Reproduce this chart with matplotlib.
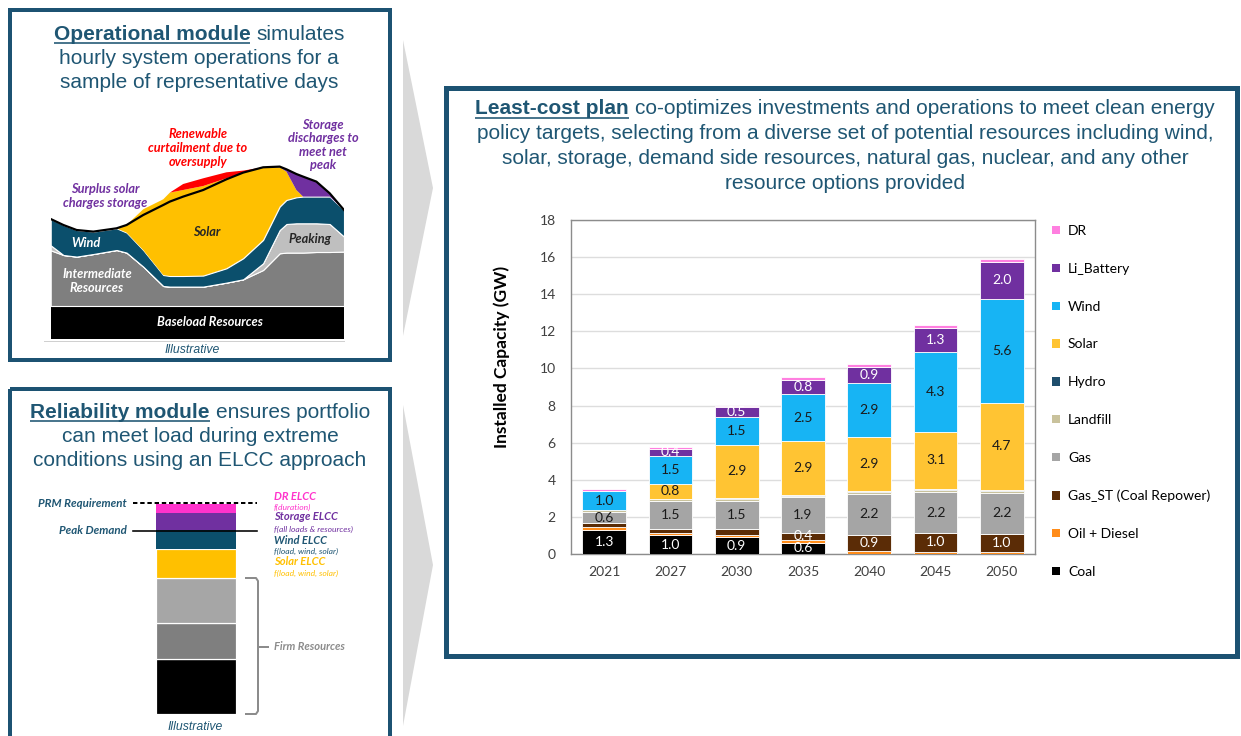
import numpy as np
import matplotlib
matplotlib.use("Agg")
import matplotlib.pyplot as plt
from matplotlib.patches import Rectangle, Polygon, Patch

# ---------------- capacity expansion results (GW) ----------------
years = ["2021", "2027", "2030", "2035", "2040", "2045", "2050"]
coal       = [1.3, 1.0, 0.9, 0.6, 0.0, 0.0, 0.0]
oil_diesel = [0.15, 0.15, 0.15, 0.15, 0.15, 0.12, 0.10]
gas_st     = [0.2, 0.2, 0.3, 0.4, 0.9, 1.0, 1.0]
gas        = [0.6, 1.5, 1.5, 1.9, 2.2, 2.2, 2.2]
landfill   = [0.10, 0.10, 0.10, 0.10, 0.10, 0.12, 0.10]
hydro      = [0.03, 0.03, 0.05, 0.05, 0.05, 0.05, 0.05]
solar      = [0.0, 0.8, 2.9, 2.9, 2.9, 3.1, 4.7]
wind       = [1.0, 1.5, 1.5, 2.5, 2.9, 4.3, 5.6]
li_battery = [0.0, 0.4, 0.5, 0.8, 0.9, 1.3, 2.0]
dr         = [0.10, 0.10, 0.10, 0.15, 0.12, 0.15, 0.15]

series_names = ["Coal", "Oil + Diesel", "Gas_ST (Coal Repower)", "Gas", "Landfill",
                "Hydro", "Solar", "Wind", "Li_Battery", "DR"]
y_ticks = [0, 2, 4, 6, 8, 10, 12, 14, 16, 18]

# ---------------- illustrative daily dispatch profile ----------------
op_hours      = [0, 1.04, 2.12, 3.49, 5.39, 6.21, 7.57, 9.21, 9.75, 10.84, 12.48,
                 14.38, 15.75, 17.38, 18.74, 19.29, 20.10, 20.65, 21.74, 22.83, 24.0]
baseload_lvl  = 33.3
intermediate  = [89.0, 84.3, 82.7, 85.3, 89.3, 86.7, 72.7, 53.3, 52.7, 52.7, 52.7,
                 56.7, 60.0, 69.3, 86.0, 86.7, 86.7, 86.7, 87.3, 87.3, 87.7]
peaking       = [94.0, 84.3, 82.7, 85.3, 89.3, 86.7, 72.7, 53.3, 52.7, 52.7, 52.7,
                 56.7, 60.0, 76.0, 109.3, 115.3, 116.0, 116.0, 116.0, 115.3, 102.7]
wind_top      = [120.3, 114.3, 109.3, 107.7, 111.0, 106.7, 89.3, 64.3, 63.3, 63.3, 63.7,
                 71.0, 81.0, 99.3, 132.7, 139.3, 142.0, 142.7, 142.7, 142.7, 129.3]
solar_top     = [120.3, 114.3, 109.3, 107.7, 111.0, 114.3, 130.0, 140.0, 146.7, 149.3, 153.3,
                 161.0, 166.7, 172.0, 172.0, 167.7, 149.3, 142.7, 142.7, 142.7, 129.3]
curtail_top   = [120.3, 114.3, 109.3, 107.7, 111.0, 114.3, 130.0, 140.0, 146.7, 155.3, 161.0,
                 167.0, 168.7, 172.0, 172.0, 167.7, 149.3, 142.7, 142.7, 142.7, 129.3]
net_load      = [120.3, 114.3, 109.3, 107.7, 111.0, 114.3, 124.3, 134.3, 137.7, 142.7, 149.3,
                 160.0, 166.7, 172.0, 172.7, 170.0, 165.3, 162.7, 157.7, 146.0, 129.3]

# ---------------- illustrative ELCC stack ----------------
elcc_names   = ["Baseload", "Firm 2", "Firm 3", "Solar", "Wind", "Storage", "DR"]
elcc_heights = [55.5, 35.2, 45.6, 28.4, 19.3, 17.3, 8.7]
peak_demand  = 183.3
prm_level    = 210.7

# ---------------- styling ----------------
W, H = 1241, 736
TEAL = "#1C5272"
TXT = "#1F5673"
TITLE_FONT = ["Liberation Sans", "DejaVu Sans"]
LAB_FONT = ["Lato", "DejaVu Sans"]
PT = 0.72  # points per pixel at 100 dpi

colors = {
    "Coal": "#000000", "Oil + Diesel": "#FF8C1A", "Gas_ST (Coal Repower)": "#5B2C06",
    "Gas": "#A5A5A5", "Landfill": "#C9C29C", "Hydro": "#1E4E6C", "Solar": "#FFC433",
    "Wind": "#17B4F4", "Li_Battery": "#7030A0", "DR": "#FF7FE0",
}

fig = plt.figure(figsize=(W / 100, H / 100), dpi=100, facecolor="white")
# full-figure pixel canvas for frames and annotations, drawn above the inner axes
ax0 = fig.add_axes([0, 0, 1, 1], zorder=5)
ax0.set_xlim(0, W)
ax0.set_ylim(H, 0)
ax0.axis("off")
ax0.patch.set_visible(False)
renderer = fig.canvas.get_renderer()


def fax(left, top, right, bottom):
    return [left / W, (H - bottom) / H, (right - left) / W, (bottom - top) / H]


# frames
ax0.add_patch(Rectangle((10, 10), 380, 350, fill=False, ec=TEAL, lw=4 * PT))
ax0.add_patch(Rectangle((10, 389), 380, 380, fill=False, ec=TEAL, lw=4 * PT))
ax0.add_patch(Rectangle((446, 88), 791, 568, fill=False, ec=TEAL, lw=5 * PT))

# chevrons
ax0.add_patch(Polygon([(403, 40), (433, 188), (403, 336)], closed=True, fc="#D9D9D9", ec="none"))
ax0.add_patch(Polygon([(403, 405), (433, 565), (403, 726)], closed=True, fc="#D9D9D9", ec="none"))


def title_block(cx, baselines, lines, size):
    spx = size / PT
    for yb, parts in zip(baselines, lines):
        objs = []
        for s, bold in parts:
            t = ax0.text(0, yb, s, fontsize=size, fontweight="bold" if bold else "normal",
                         color=TXT, ha="left", va="baseline", family=TITLE_FONT)
            objs.append((t, bold))
        widths = [t.get_window_extent(renderer).width for t, _ in objs]
        gap = 0.278 * spx
        total = sum(widths) + gap * (len(objs) - 1)
        x = cx - total / 2
        for (t, bold), w in zip(objs, widths):
            t.set_x(x)
            if bold:
                ax0.plot([x, x + w], [yb + 3.5, yb + 3.5], color=TXT, lw=1.6 * PT,
                         solid_capstyle="butt")
            x += w + gap


title_block(199, [39.5, 64, 88.5],
            [[("Operational module", True), ("simulates", False)],
             [("hourly system operations for a", False)],
             [("sample of representative days", False)]], 15)

title_block(200, [417.5, 442, 466.5],
            [[("Reliability module", True), ("ensures portfolio", False)],
             [("can meet load during extreme", False)],
             [("conditions using an ELCC approach", False)]], 15)

title_block(845, [114, 139, 164, 189],
            [[("Least-cost plan", True),
              ("co-optimizes investments and operations to meet clean energy", False)],
             [("policy targets, selecting from a diverse set of potential resources including wind,", False)],
             [("solar, storage, demand side resources, natural gas, nuclear, and any other", False)],
             [("resource options provided", False)]], 15)

# ---------------- operational dispatch diagram ----------------
axA = fig.add_axes(fax(50.7, 139.3, 344, 339.3))
axA.set_xlim(0, 24)
axA.set_ylim(0, 200)
axA.axis("off")
hrs = np.array(op_hours)
base = np.full_like(hrs, baseload_lvl)
axA.fill_between(hrs, 0, base, color="#000000", lw=0)
axA.fill_between(hrs, base, intermediate, fc="#7F7F7F", ec="white", lw=0.8)
axA.fill_between(hrs, intermediate, peaking, fc="#BFBFBF", ec="white", lw=0.8)
axA.fill_between(hrs, peaking, wind_top, fc="#0B4F6C", ec="white", lw=0.8)
axA.fill_between(hrs, wind_top, solar_top, fc="#FFC000", lw=0)
axA.fill_between(hrs, solar_top, curtail_top, fc="#FF0000", lw=0)
axA.fill_between(hrs, solar_top, net_load, where=hrs >= 17.3, fc="#7030A0", lw=0)
axA.plot(hrs, net_load, color="black", lw=2.2 * PT)
ax0.plot([44, 344], [341, 341], color="#D0D0D0", lw=1 * PT)

lab = dict(family=LAB_FONT, fontweight="bold", style="italic", fontsize=9.2,
           ha="center", va="center", linespacing=1.15)
ax0.text(198, 148, "Renewable\ncurtailment due to\noversupply", color="#FF0000", **lab)
ax0.text(105, 196, "Surplus solar\ncharges storage", color="#7030A0", **lab)
ax0.text(323, 145, "Storage\ndischarges to\nmeet net\npeak", color="#7030A0", **lab)
ax0.text(86, 243, "Wind", color="white", **lab)
ax0.text(207, 232, "Solar", color="#262626", **lab)
ax0.text(310, 239, "Peaking", color="#262626", **lab)
ax0.text(97, 281, "Intermediate\nResources", color="white", **lab)
ax0.text(210, 322, "Baseload Resources", color="white", **lab)
ax0.text(192, 350, "Illustrative", color=TXT, family=TITLE_FONT, style="italic",
         fontsize=8.8, ha="center", va="center")

# ---------------- ELCC stack ----------------
axE = fig.add_axes(fax(130, 494, 260, 714))
axE.set_xlim(130, 260)
axE.set_ylim(0, 220)
axE.axis("off")
elcc_colors = ["#000000", "#7F7F7F", "#A6A6A6", "#FFC000", "#0B4F6C", "#7030A0", "#FF33CC"]
bottom = 0.0
for name, h, c in zip(elcc_names, elcc_heights, elcc_colors):
    axE.bar(195.7, h, bottom=bottom, width=80, color=c, ec="white",
            lw=1.2 * PT if name in ("Baseload", "Firm 2", "Firm 3", "Solar") else 0)
    bottom += h
axE.plot([133, 257], [prm_level, prm_level], color="black", lw=2 * PT, ls=(0, (2.2, 1.4)))
axE.plot([133, 257], [peak_demand, peak_demand], color="black", lw=1.6 * PT)
axE.plot([135, 257], [0, 0], color="#D0D0D0", lw=1 * PT)

sl = dict(family=LAB_FONT, fontweight="bold", style="italic", va="center")
ax0.text(127, 503.5, "PRM Requirement", color=TXT, fontsize=8.3, ha="right", **sl)
ax0.text(127, 530.5, "Peak Demand", color=TXT, fontsize=8.3, ha="right", **sl)
ax0.text(274, 496.7, "DR ELCC", color="#FF33CC", fontsize=8, ha="left", **sl)
ax0.text(274, 516.7, "Storage ELCC", color="#7030A0", fontsize=8, ha="left", **sl)
ax0.text(274, 540, "Wind ELCC", color=TXT, fontsize=8, ha="left", **sl)
ax0.text(274, 561.7, "Solar ELCC", color="#FFC000", fontsize=8, ha="left", **sl)
ax0.text(274, 646.7, "Firm Resources", color="#8C8C8C", fontsize=8, ha="left", **sl)
ss = dict(family=LAB_FONT, style="italic", va="center", ha="left", fontsize=6.1)
ax0.text(274, 507.7, "f(duration)", color="#FF33CC", **ss)
ax0.text(274, 529, "f(all loads & resources)", color="#7030A0", **ss)
ax0.text(274, 551, "f(load, wind, solar)", color=TXT, **ss)
ax0.text(274, 573.7, "f(load, wind, solar)", color="#FFC000", **ss)
ax0.plot([246, 256, 258, 258, 256, 246], [578, 578, 581, 711, 714, 714],
         color="#8C8C8C", lw=2 * PT, solid_joinstyle="round")
ax0.plot([258, 268], [646.7, 646.7], color="#8C8C8C", lw=2 * PT)
ax0.text(195, 727, "Illustrative", color=TXT, family=TITLE_FONT, style="italic",
         fontsize=8.8, ha="center", va="center")

# ---------------- installed capacity stacked bars ----------------
ax = fig.add_axes(fax(571, 220, 1035, 554))
xpos = np.arange(len(years))
stack = [coal, oil_diesel, gas_st, gas, landfill, hydro, solar, wind, li_battery, dr]
labelled = {"Coal": "white", "Gas_ST (Coal Repower)": "white", "Li_Battery": "white",
            "Gas": "#1A1A1A", "Solar": "#1A1A1A", "Wind": "#1A1A1A"}
bottoms = np.zeros(len(years))
for name, vals in zip(series_names, stack):
    vals = np.asarray(vals, dtype=float)
    cont = ax.bar(xpos, vals, bottom=bottoms, width=0.66, color=colors[name],
                  ec="white", lw=0.6, zorder=3)
    if name in labelled:
        labels = [f"{v:.1f}" if v >= 0.35 else "" for v in vals]
        ax.bar_label(cont, labels=labels, label_type="center", color=labelled[name],
                     fontsize=10, family=LAB_FONT, zorder=4)
    bottoms += vals

ax.set_xlim(-0.5, len(years) - 0.5)
ax.set_ylim(0, 18)
ax.set_yticks(y_ticks)
ax.set_xticks(xpos)
ax.set_xticklabels(years)
ax.tick_params(length=0, labelsize=10, colors="#404040", pad=11)
ax.tick_params(axis="x", pad=9)
for t in ax.get_xticklabels() + ax.get_yticklabels():
    t.set_family(LAB_FONT)
ax.yaxis.grid(True, color="#DDDDDD", lw=1)
ax.set_axisbelow(True)
for s in ax.spines.values():
    s.set_color("#8C8C8C")
    s.set_linewidth(1)
ax.set_ylabel("Installed Capacity (GW)", fontsize=12.5, fontweight="bold",
              family=LAB_FONT, color="black")
ax.yaxis.set_label_coords(-0.132, 0.59)

handles = [Patch(fc=colors[n], ec="none") for n in series_names[::-1]]
ax.legend(handles, series_names[::-1], loc="upper left", bbox_to_anchor=(1052, 225),
          bbox_transform=ax0.transData, frameon=False,
          prop={"family": LAB_FONT, "size": 10}, handlelength=0.55, handleheight=0.55,
          handletextpad=0.6, labelspacing=1.86, borderpad=0, borderaxespad=0)

fig.savefig("out.png", dpi=100, facecolor="white")
